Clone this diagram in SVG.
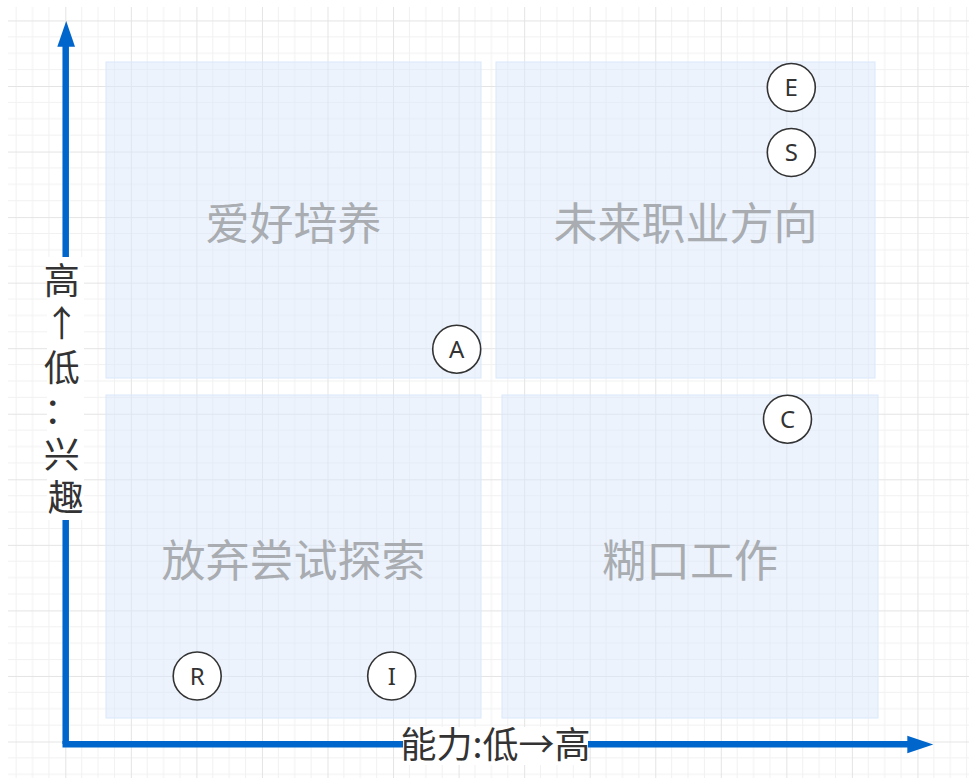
<svg xmlns="http://www.w3.org/2000/svg" width="969" height="778" viewBox="0 0 969 778">
  <style>
    .quad { fill: #dae8fc; fill-opacity: 0.5; stroke: #dae8fc; stroke-width: 1; }
    .qlabel { font-family: "Noto Sans CJK SC", "Noto Sans", sans-serif; font-size: 44px; fill: #a9acb0; text-anchor: middle; }
    .circ { fill: #ffffff; stroke: #333333; stroke-width: 1.6; }
    .letter { font-family: "Noto Sans", "Liberation Sans", sans-serif; font-size: 24px; fill: #333333; text-anchor: middle; }
    .axis { stroke: #0066cc; stroke-width: 6.5; fill: none; }
    .axlabel { font-family: "Noto Sans CJK SC", "Noto Sans", sans-serif; font-size: 36px; fill: #333333; text-anchor: middle; }
  </style>
  <defs>
    <pattern id="grid" patternUnits="userSpaceOnUse" x="-0.25" y="20.45" width="65.55" height="65.55">
      <path d="M16.39 0V65.55M32.78 0V65.55M49.16 0V65.55M0 16.39H65.55M0 32.78H65.55M0 49.16H65.55" stroke="#f1f1f1" stroke-width="1" fill="none"/>
      <path d="M0.5 0V65.55M0 0.5H65.55" stroke="#e4e4e4" stroke-width="1" fill="none"/>
    </pattern>
  </defs>
  <rect x="0" y="0" width="969" height="778" fill="#ffffff"/>
  <rect x="8" y="7" width="961" height="771" fill="url(#grid)"/>

  <g id="q-hobby">
    <rect class="quad" x="106" y="62" width="375" height="316"/>
    <text class="qlabel" x="293.5" y="240">爱好培养</text>
  </g>
  <g id="q-career">
    <rect class="quad" x="496" y="62" width="379" height="316"/>
    <text class="qlabel" x="685.5" y="240">未来职业方向</text>
  </g>
  <g id="q-give-up">
    <rect class="quad" x="106" y="395" width="375" height="323"/>
    <text class="qlabel" x="293.5" y="577">放弃尝试探索</text>
  </g>
  <g id="q-job">
    <rect class="quad" x="502" y="395" width="376" height="323"/>
    <text class="qlabel" x="690" y="577">糊口工作</text>
  </g>

  <g id="connectors">
    <path class="axis" d="M65.7 744V44"/>
    <polygon points="57.3,46.7 66.2,21 75,46.7" fill="#0066cc"/>
    <path class="axis" d="M62.5 744.3H910"/>
    <polygon points="907.3,735.7 933.3,744.4 907.3,753.3" fill="#0066cc"/>
  </g>

  <g id="y-label">
    <rect x="47" y="257" width="37" height="263" fill="#ffffff"/>
    <text class="axlabel" x="65.7">
      <tspan x="65.7" y="294">高</tspan>
      <tspan x="65.7" y="337.4">↑</tspan>
      <tspan x="65.7" y="380.8">低</tspan>
      <tspan x="65.7" y="424.2">：</tspan>
      <tspan x="65.7" y="467.6">兴</tspan>
      <tspan x="65.7" y="511">趣</tspan>
    </text>
  </g>
  <g id="x-label">
    <rect x="403" y="727" width="185" height="38" fill="#ffffff"/>
    <text class="axlabel" x="495.5" y="758">能力:低→高</text>
  </g>

  <g id="node-E"><circle class="circ" cx="791.3" cy="87.5" r="24"/><text class="letter" x="791.3" y="96">E</text></g>
  <g id="node-S"><circle class="circ" cx="791.3" cy="152.5" r="24"/><text class="letter" x="791.3" y="161">S</text></g>
  <g id="node-A"><circle class="circ" cx="456.7" cy="349.2" r="24"/><text class="letter" x="456.7" y="357.7">A</text></g>
  <g id="node-C"><circle class="circ" cx="787.5" cy="419.2" r="24"/><text class="letter" x="787.5" y="427.7">C</text></g>
  <g id="node-R"><circle class="circ" cx="197.2" cy="676" r="24"/><text class="letter" x="197.2" y="684.5">R</text></g>
  <g id="node-I"><circle class="circ" cx="391.7" cy="676" r="24"/><text class="letter" x="391.7" y="684.5">I</text></g>
</svg>
